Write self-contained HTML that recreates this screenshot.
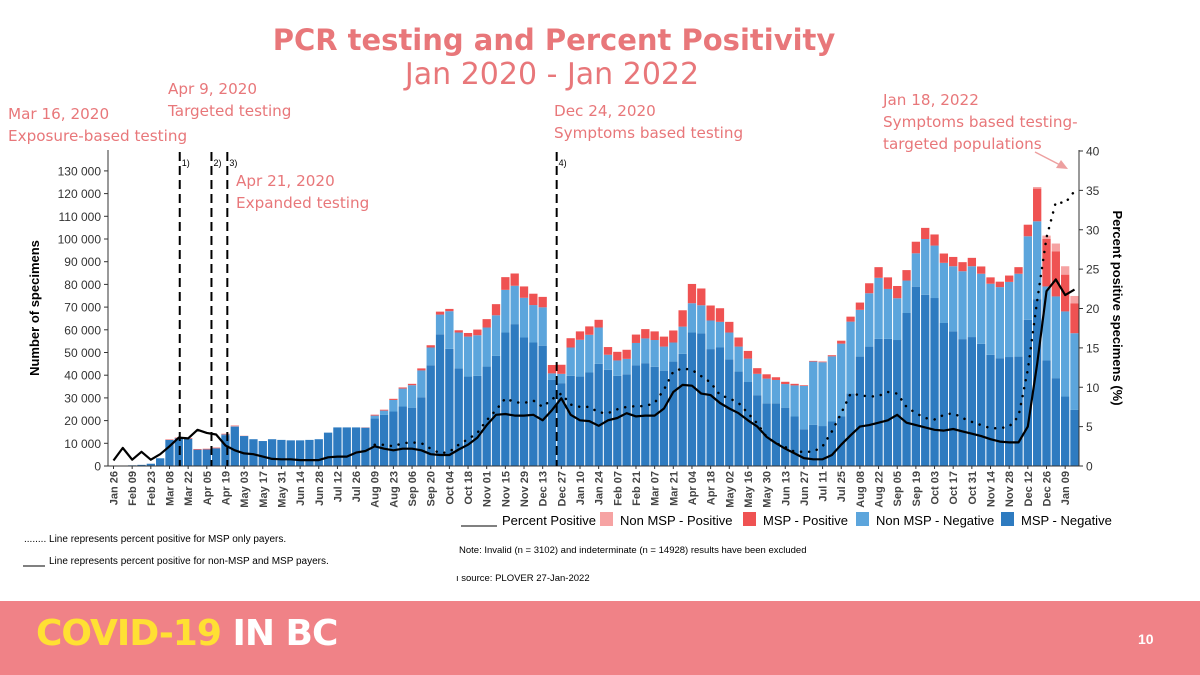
<!DOCTYPE html>
<html><head><meta charset="utf-8">
<style>
body{margin:0;width:1200px;height:675px;overflow:hidden;background:#fff;font-family:"Liberation Sans",sans-serif;position:relative}
.ann{position:absolute;color:#e8777a;font-family:"DejaVu Sans","Liberation Sans",sans-serif;font-size:15.2px;line-height:22px}
#footer{position:absolute;left:0;top:601px;width:1200px;height:74px;background:#f08287}
</style></head><body>
<div style="position:absolute;left:0;width:1108px;top:23px;text-align:center;color:#e8777a;font-family:'DejaVu Sans',sans-serif;font-weight:bold;font-size:29px">PCR testing and Percent Positivity</div>
<div style="position:absolute;left:0;width:1104px;top:57px;text-align:center;color:#e8777a;font-family:'DejaVu Sans',sans-serif;font-size:30px">Jan 2020 - Jan 2022</div>
<div class="ann" style="left:8px;top:103px">Mar 16, 2020<br>Exposure-based testing</div>
<div class="ann" style="left:168px;top:78px">Apr 9, 2020<br>Targeted testing</div>
<div class="ann" style="left:236px;top:170px">Apr 21, 2020<br>Expanded testing</div>
<div class="ann" style="left:554px;top:100px">Dec 24, 2020<br>Symptoms based testing</div>
<div class="ann" style="left:883px;top:89px">Jan 18, 2022<br>Symptoms based testing-<br>targeted populations</div>
<svg id="chart" width="1200" height="600" style="position:absolute;left:0;top:0"></svg>
<div id="footer">
<div style="position:absolute;left:36px;top:12px;font-family:'DejaVu Sans',sans-serif;font-weight:bold;font-size:36px;letter-spacing:-1px"><span style="color:#ffe033">COVID-19</span> <span style="color:#fff">IN BC</span></div>
<div style="position:absolute;left:1138px;top:30px;color:#fff;font-weight:bold;font-size:14px">10</div>
</div>
<script>
const mspNeg=[0.1,0.2,0.3,0.5,1.0,3.4,11.5,12.2,12.0,7.2,7.3,7.8,13.6,17.2,13.2,11.8,11,11.8,11.5,11.3,11.3,11.5,11.8,14.7,17,17,17,16.9,20.9,22.5,24,26.2,25.7,30.3,44.4,58,51.6,43,39.4,39.7,43.8,48.5,58.8,62.5,56.6,54.4,53,37.9,36.5,39.7,39.4,41.2,45,42.4,39.7,40.4,44.3,45.3,43.7,42,46,49.4,58.8,58.4,51.5,52.2,47,41.6,37,31.2,27.6,27.6,25.7,21.8,16.2,18.1,17.6,19.6,21.8,32,48.2,52.6,56,56,55.5,67.4,79,75.4,74,63,59.3,55.9,56.8,53.8,49,47.5,48,48.2,64.4,73.5,46.5,38.7,30.6,24.7];
const nonMspNeg=[0,0,0,0,0,0,0,0,0,0,0,0,0.3,0.3,0,0,0,0,0,0,0,0,0,0,0,0,0,0,1.3,1.9,5.1,7.9,9.9,11.8,7.8,8.7,16.6,15.8,17.6,17.9,17.2,17.9,18.8,16.9,17.5,16.5,16.9,2.9,4.1,12.5,16.2,16.6,16,6.6,6.8,6.8,9.9,10.9,11.8,10.6,8.4,12,12.9,12.4,12.6,11.3,11.8,11,10.3,9.4,10.9,10.3,10.4,13.7,19.1,27.9,28.1,28.7,32.1,31.6,20.6,23.5,26.9,22,18.4,14.3,14.7,24.6,23.1,26.5,28.7,29.9,31.2,30.9,31.3,31.3,33.1,36.5,36.8,34.3,32.6,36,37.5,33.8];
const mspPos=[0,0,0,0,0,0,0.2,0.3,0.3,0.3,0.3,0.3,0.3,0.3,0.1,0,0,0,0,0,0,0,0,0,0,0,0,0.1,0.4,0.4,0.5,0.5,0.6,0.9,1,1.3,1,1,1.6,2.5,3.7,4.9,5.6,5.4,5,5,4.6,3.7,4.0,4.1,3.7,3.7,3.4,3.4,3.8,4,3.7,4.1,3.8,4.4,5.3,7.2,8.5,7.4,6.6,6,4.7,4,3.4,2.5,1.9,1.2,1,0.7,0.3,0.3,0.3,0.5,1.3,2.2,3.2,4.4,4.7,5.1,5.4,4.6,5.1,4.9,4.9,4.1,4.1,4,3.7,3.2,2.8,2.4,2.8,2.9,5.1,14.4,20.9,19.9,16.2,13.2];
const nonMspPos=[0,0,0,0,0,0,0,0,0,0,0,0,0,0,0,0,0,0,0,0,0,0,0,0,0,0,0,0,0,0,0,0,0,0,0,0,0,0,0,0,0,0,0,0,0,0,0,0,0,0,0,0,0,0,0,0,0,0,0,0,0,0,0,0,0,0,0,0,0,0,0,0,0,0,0,0,0,0,0,0,0,0,0,0,0,0,0,0,0,0,0,0,0,0,0,0,0,0,0,0.7,1.5,3.4,3.7,3.2];
const pctAll=[0.7,2.3,0.8,1.8,0.8,1.5,2.5,3.6,3.5,4.6,4.2,4.0,2.6,2.0,1.6,1.5,1.2,0.9,0.85,0.85,0.75,0.75,0.75,1.1,1.2,1.2,1.7,1.9,2.5,2.2,2,2.2,2.2,2,1.5,1.4,1.4,2.1,2.7,3.6,5.2,6.5,6.6,6.4,6.4,6.5,5.8,7.1,8.6,6.5,5.8,5.7,5.1,5.8,6.1,6.7,6.3,6.4,6.4,7.3,9.4,10.3,10.2,9.2,9,8,7.3,6.7,5.8,5,3.7,2.9,2.2,1.6,1,0.85,0.85,1.4,2.7,3.9,5,5.2,5.5,5.8,6.5,5.5,5.2,4.9,4.6,4.5,4.7,4.4,4.1,3.8,3.4,3.1,3,3,5,13,22.2,23.7,21.7,22.4];
const pctMsp=[null,null,null,null,null,null,null,null,null,null,null,null,null,null,null,null,null,null,null,null,null,null,null,null,null,null,null,null,2.7,2.7,2.5,2.9,3,2.9,2.2,1.6,1.8,2.7,3.4,4.2,5.8,7.1,8.6,8.1,8,8.3,7.5,8.5,9.2,7.8,7.5,7.5,6.8,6.7,7.2,7.5,7.6,7.6,8,9.7,12,12.4,12.2,11.4,10.6,9,8.6,8,6.7,5.4,3.7,2.9,2.4,1.8,1.8,1.8,2.5,4.4,6.7,9.2,9,8.8,8.9,9.4,9.2,7.5,6.7,6.1,5.9,6.5,6.7,6.1,5.6,5.2,4.8,4.8,5,6.3,12.2,21,29,33.5,33.4,34.9];
const leftTicks=[0,10,20,30,40,50,60,70,80,90,100,110,120,130];
const rightTicks=[0,5,10,15,20,25,30,35,40];
const startDate=[2020,0,26];
const eventWeeks=[7.1,10.5,12.2,47.5];
const eventLabels=["1)","2)","3)","4)"];

const NS="http://www.w3.org/2000/svg";
const svg=document.getElementById('chart');
const X0=113.5,DX=9.33,Y0=466,PY=22.7/10,PR=315/40;
const xs=w=>X0+w*DX, yl=v=>Y0-v*PY, yr=p=>Y0-p*PR;
function mk(t,a,p){const e=document.createElementNS(NS,t);for(const k in a)e.setAttribute(k,a[k]);(p||svg).appendChild(e);return e;}
const cols=['#2e7bc0','#5ca5dc','#ef5252','#f6a3a3'];
const series=[mspNeg,nonMspNeg,mspPos,nonMspPos];
const bw=8.3;
for(let i=0;i<mspNeg.length;i++){
  let acc=0;
  for(let s=0;s<4;s++){
    const v=series[s][i];if(!v)continue;
    const r=mk('rect',{x:xs(i)-bw/2,y:yl(acc+v),width:bw,height:v*PY,fill:cols[s]});
    
    
    acc+=v;
  }
}
mk('line',{x1:108,y1:150,x2:108,y2:Y0,stroke:'#333','stroke-width':1});
mk('line',{x1:108,y1:Y0,x2:1079,y2:Y0,stroke:'#333','stroke-width':1});
mk('line',{x1:1079,y1:150,x2:1079,y2:Y0,stroke:'#333','stroke-width':1});
leftTicks.forEach(v=>{
  mk('line',{x1:104,y1:yl(v),x2:108,y2:yl(v),stroke:'#333'});
  const t=mk('text',{x:101,y:yl(v)+4.5,'text-anchor':'end','font-size':12,fill:'#333'});
  t.textContent=v===0?'0':v+' 000';
  
  
});
rightTicks.forEach(v=>{
  mk('line',{x1:1079,y1:yr(v),x2:1083,y2:yr(v),stroke:'#333'});
  const t=mk('text',{x:1086,y:yr(v)+4.5,'font-size':12,fill:'#333'});
  t.textContent=v;
  
  
});
const mon=['Jan','Feb','Mar','Apr','May','Jun','Jul','Aug','Sep','Oct','Nov','Dec'];
for(let w=0;w<mspNeg.length;w+=2){
  const d=new Date(startDate[0],startDate[1],startDate[2]+7*w);
  const lab=mon[d.getMonth()]+' '+String(d.getDate()).padStart(2,'0');
  mk('line',{x1:xs(w),y1:Y0,x2:xs(w),y2:Y0+3,stroke:'#333'});
  const t=mk('text',{x:0,y:0,'text-anchor':'end','font-size':11,'font-weight':'bold',fill:'#444',transform:`translate(${xs(w)+4},${Y0+5}) rotate(-90)`});
  t.textContent=lab;
  
  
}
let t=mk('text',{x:0,y:0,'text-anchor':'middle','font-size':13,'font-weight':'bold',fill:'#000',transform:'translate(39,308) rotate(-90)'});
t.textContent='Number of specimens';

t=mk('text',{x:0,y:0,'text-anchor':'middle','font-size':13,'font-weight':'bold',fill:'#000',transform:'translate(1113,308) rotate(90)'});
t.textContent='Percent positive specimens (%)';

eventWeeks.forEach((w,i)=>{
  const l=mk('line',{x1:xs(w),y1:152,x2:xs(w),y2:Y0,stroke:'#000','stroke-width':2,'stroke-dasharray':'9,5'});
  
  const tt=mk('text',{x:xs(w)+2,y:166,'font-size':9,fill:'#000'});tt.textContent=eventLabels[i];
  
});
function path(arr){let d='',st=false;arr.forEach((v,i)=>{if(v==null){st=false;return;}d+=(st?'L':'M')+xs(i).toFixed(1)+','+yr(v).toFixed(1);st=true;});return d;}
let p=mk('path',{d:path(pctMsp),fill:'none',stroke:'#000','stroke-width':2.5,'stroke-dasharray':'0.1,8','stroke-linecap':'round'});

p=mk('path',{d:path(pctAll),fill:'none',stroke:'#000','stroke-width':2.2,'stroke-linejoin':'round'});

mk('line',{x1:1035,y1:152,x2:1064,y2:167,stroke:'#eda0a0','stroke-width':1.5});
mk('polygon',{points:'1068,169 1056,168 1061,160',fill:'#eda0a0'});
const lg=mk('g',{});
mk('line',{x1:461,y1:526,x2:497,y2:526,stroke:'#000','stroke-width':1},lg);
let lt=mk('text',{x:502,y:525,'font-size':13,fill:'#000'},lg);lt.textContent='Percent Positive';
const items=[['Non MSP - Positive','#f6a3a3',600],['MSP - Positive','#ef5252',743],['Non MSP - Negative','#5ca5dc',856],['MSP - Negative','#2e7bc0',1001]];
items.forEach(it=>{mk('rect',{x:it[2],y:512,width:13,height:14,fill:it[1]},lg);
 const tx=mk('text',{x:it[2]+20,y:525,'font-size':13,fill:'#000'},lg);tx.textContent=it[0];
 });
t=mk('text',{x:459,y:553,'font-size':9.5,fill:'#000'});t.textContent='Note: Invalid (n = 3102) and indeterminate (n = 14928) results have been excluded';

t=mk('text',{x:456,y:581,'font-size':9.5,fill:'#000'});t.textContent='\u0131 source: PLOVER 27-Jan-2022';

t=mk('text',{x:24,y:542,'font-size':10,fill:'#000'});t.textContent='........ Line represents percent positive for MSP only payers.';

mk('line',{x1:23,y1:566,x2:45,y2:566,stroke:'#000'});
t=mk('text',{x:49,y:564,'font-size':10,fill:'#000'});t.textContent='Line represents percent positive for non-MSP and MSP payers.';

</script>
</body></html>
